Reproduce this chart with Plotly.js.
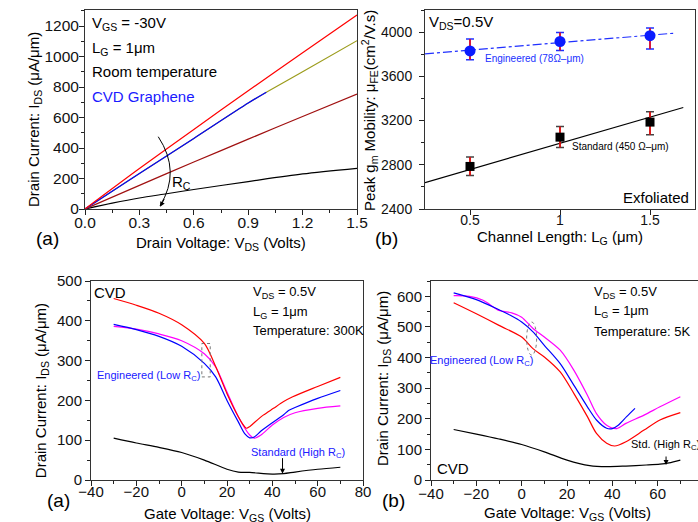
<!DOCTYPE html>
<html><head><meta charset="utf-8">
<script src="https://cdn.plot.ly/plotly-3.0.1.min.js"></script>
<style>html,body{margin:0;padding:0;overflow:hidden;background:#fff;width:698px;height:522px}#chart{width:710px;height:522px}</style>
</head><body><div id="chart"></div>
<script>
// ---------- (a) top: Id-Vds ----------
const vdsA = [0, 0.3, 0.6, 0.9, 1.2, 1.5];
const idRed = [0, 265, 522, 775, 1025, 1272];
const idDarkRed = [0, 155, 308, 458, 607, 754];
const vdsOlive = [0, 0.3, 0.6, 0.9, 1.0, 1.2, 1.5];
const idOlive = [0, 232, 463, 695, 766, 900, 1104];
const vdsBlue = [0, 0.3, 0.6, 0.9, 1.0];
const idBlue = [0, 232, 463, 695, 766];
const vdsBlack = [0, 0.15, 0.3, 0.45, 0.6, 0.9, 1.2, 1.5];
const idBlack = [0, 38, 72, 100, 128, 180, 230, 267];

// ---------- (b) top: mobility vs LG ----------
const lg = [0.5, 1, 1.5];
const engMob = [3830, 3915, 3968];
const engErrPlus = [108, 82, 70];
const engErrMinus = [81, 81, 120];
const stdMob = [2785, 3050, 3186];
const stdErrPlus = [85, 96, 94];
const stdErrMinus = [83, 94, 114];
const engFitX = [0.25, 1.64];
const engFitY = [3804, 3991];
const stdFitX = [0.25, 1.685];
const stdFitY = [2639, 3318];

// ---------- (a) bottom: 300K transfer ----------
const vgsRed300 = [-30, -20, -10, 0, 10, 15, 20, 25, 27, 28.5, 30, 32, 36, 40.5, 45, 49, 60, 70];
const idRed300 = [456, 439, 419, 390, 343, 285, 217, 159, 140, 130, 134, 144, 163, 180, 197, 209, 235, 258];
const vgsBlue300 = [-30, -20, -10, 0, 10, 15, 20, 25, 28, 30, 32, 35, 40, 45, 47, 48, 50, 60, 70];
const idBlue300 = [391, 378, 361, 336, 293, 259, 200, 146, 115, 106, 108, 123, 144, 164, 174, 177, 182, 205, 225];
const vgsMag300 = [-30, -20, -10, 0, 10, 15, 20, 25, 30, 32, 35, 40, 45, 50, 60, 70];
const idMag300 = [386, 379, 367, 350, 317, 284, 221, 159, 113, 105, 113, 138, 157, 169, 180, 186];
const vgsBlack300 = [-30, -20, -10, 0, 10, 20, 25, 30, 40, 45, 50, 60, 70];
const idBlack300 = [105, 93, 82, 69, 50, 27, 20, 19, 15, 16, 20, 27, 32];

// ---------- (b) bottom: 5K transfer ----------
const vgsBlue5 = [-30, -20, -10, -5, 0, 5, 10, 17, 23, 29, 33, 37.5, 40, 42.6, 46.3, 50];
const idBlue5 = [611, 589, 556, 538, 516, 484, 440, 380, 310, 239, 196, 169, 168, 179, 207, 234];
const vgsMag5 = [-30, -23, -17, -10, -4.4, 0, 5, 10, 17, 23, 29, 33, 37.5, 42, 46, 54, 61, 70];
const idMag5 = [602, 600, 587, 554, 546, 532, 495, 467, 424, 359, 277, 217, 179, 168, 185, 212, 239, 272];
const vgsRed5 = [-30, -20, -10, 0, 5, 10, 17, 23, 29, 33, 37.5, 41, 46, 54, 61, 70];
const idRed5 = [579, 543, 505, 467, 429, 402, 353, 283, 207, 152, 120, 111, 125, 163, 196, 220];
const vgsBlack5 = [-30, -20, -10, 0, 10, 20, 30, 37.5, 46, 55, 61, 65, 70];
const idBlack5 = [165, 150, 134, 116, 92, 65, 47, 43.5, 45.6, 49, 52, 56, 65];

// ---------- layout helpers ----------
const W = 710, H = 522;
const fx = p => p / W, fy = p => 1 - p / H;
const FONT = 'Liberation Sans, Arial, sans-serif';
const RED = '#ff0000', BLUE = '#0000ff', MAG = '#ff00ff', OLIVE = '#9c9c1c', DRED = '#a01010', BLK = '#000000';

function axis(domain, range, tick0, dtick, minor, anchor, fs, extra) {
  const a = {
    domain, range, tick0, dtick, anchor,
    ticks: 'outside', ticklen: 5, tickwidth: 1, tickcolor: '#222',
    showline: true, linecolor: '#333', linewidth: 1, mirror: true,
    showgrid: false, zeroline: false, automargin: false, fixedrange: true,
    tickfont: {family: FONT, size: fs, color: '#111'}
  };
  if (minor) a.minor = {dtick: minor, tick0: tick0, ticks: 'outside', ticklen: 3, tickcolor: '#222', showgrid: false};
  return Object.assign(a, extra || {});
}

const line = (x, y, color, xa, ya, extra) => Object.assign({
  x, y, xaxis: xa, yaxis: ya, type: 'scatter', mode: 'lines',
  line: {color, width: 1.2, shape: 'spline', smoothing: 0.8}, hoverinfo: 'skip'
}, extra || {});

const traces = [
  // top (a)
  line(vdsBlack, idBlack, BLK, 'x', 'y'),
  line(vdsA, idDarkRed, DRED, 'x', 'y'),
  line(vdsOlive, idOlive, OLIVE, 'x', 'y'),
  line(vdsBlue, idBlue, BLUE, 'x', 'y'),
  line(vdsA, idRed, RED, 'x', 'y'),
  // top (b)
  {x: engFitX, y: engFitY, xaxis: 'x2', yaxis: 'y2', mode: 'lines', line: {color: '#2030ff', width: 1.2, dash: 'dashdot'}},
  {x: stdFitX, y: stdFitY, xaxis: 'x2', yaxis: 'y2', mode: 'lines', line: {color: BLK, width: 1.2}},
  {x: lg, y: engMob, xaxis: 'x2', yaxis: 'y2', mode: 'markers', marker: {size: 2, opacity: 0},
   error_y: {type: 'data', array: engErrPlus, arrayminus: engErrMinus, color: '#2030ff', thickness: 1.5, width: 4}},
  {x: lg, y: engMob, xaxis: 'x2', yaxis: 'y2', mode: 'markers', marker: {size: 11, color: '#0a1cff', symbol: 'circle'},
   error_y: {type: 'data', array: engErrPlus, arrayminus: engErrMinus, color: RED, thickness: 1.5, width: 0}},
  {x: lg, y: stdMob, xaxis: 'x2', yaxis: 'y2', mode: 'markers', marker: {size: 2, opacity: 0},
   error_y: {type: 'data', array: stdErrPlus, arrayminus: stdErrMinus, color: '#444', thickness: 1.5, width: 4}},
  {x: lg, y: stdMob, xaxis: 'x2', yaxis: 'y2', mode: 'markers', marker: {size: 9, color: BLK, symbol: 'square'},
   error_y: {type: 'data', array: stdErrPlus, arrayminus: stdErrMinus, color: RED, thickness: 1.5, width: 0}},
  // bottom (a)
  line(vgsBlack300, idBlack300, BLK, 'x3', 'y3'),
  line(vgsMag300, idMag300, MAG, 'x3', 'y3'),
  line(vgsBlue300, idBlue300, BLUE, 'x3', 'y3'),
  line(vgsRed300, idRed300, RED, 'x3', 'y3'),
  // bottom (b)
  line(vgsBlack5, idBlack5, BLK, 'x4', 'y4'),
  line(vgsRed5, idRed5, RED, 'x4', 'y4'),
  line(vgsMag5, idMag5, MAG, 'x4', 'y4'),
  line(vgsBlue5, idBlue5, BLUE, 'x4', 'y4')
];

const txt = (text, x, y, xref, yref, size, opts) => Object.assign({
  text, x, y, xref, yref, showarrow: false, xanchor: 'left', yanchor: 'middle',
  font: {family: FONT, size, color: '#000'}
}, opts || {});

const annotations = [
  // top (a)
  txt('V<sub>GS</sub> = -30V', 0.028, 1218, 'x', 'y', 15),
  txt('L<sub>G</sub> = 1\u03bcm', 0.028, 1054, 'x', 'y', 15),
  txt('Room temperature', 0.028, 905, 'x', 'y', 15),
  txt('CVD Graphene', 0.028, 736, 'x', 'y', 15, {font: {family: FONT, size: 15, color: '#1a1aff'}}),
  txt('R<sub>C</sub>', 0.469, 177, 'x', 'y', 15),
  {x: 0.414, y: 15, xref: 'x', yref: 'y', text: '', showarrow: true, arrowhead: 2, arrowsize: 1, arrowwidth: 1, arrowcolor: '#000', ax: 5, ay: -9},
  // top (b)
  txt('V<sub>DS</sub>=0.5V', 0.261, 4084, 'x2', 'y2', 15),
  txt('Exfoliated', 1.726, 2500, 'x2', 'y2', 15, {xanchor: 'right'}),
  txt('Engineered (78\u03a9\u2013\u03bcm)', 0.572, 3761, 'x2', 'y2', 10, {font: {family: FONT, size: 10, color: '#2030ff'}}),
  txt('Standard (450 \u03a9\u2013\u03bcm)', 1.056, 2965, 'x2', 'y2', 10),
  // bottom (a)
  txt('CVD', -39.6, 472, 'x3', 'y3', 15),
  txt('V<sub>DS</sub> = 0.5V', 30.5, 472, 'x3', 'y3', 13),
  txt('L<sub>G</sub> = 1\u03bcm', 30.5, 422, 'x3', 'y3', 13),
  txt('Temperature: 300K', 30.5, 374.5, 'x3', 'y3', 13),
  txt('Engineered (Low R<sub>C</sub>)', 8.9, 261.6, 'x3', 'y3', 11, {xanchor: 'right', font: {family: FONT, size: 11, color: '#2020ff'}}),
  txt('Standard (High R<sub>C</sub>)', 51.2, 68.5, 'x3', 'y3', 11, {xanchor: 'center', font: {family: FONT, size: 11, color: '#2020ff'}}),
  {x: 44.5, y: 16, xref: 'x3', yref: 'y3', text: '', showarrow: true, arrowhead: 2, arrowsize: 1, arrowwidth: 1, arrowcolor: '#000', ax: 0, ay: -17},
  // bottom (b)
  txt('CVD', -38.2, 38, 'x4', 'y4', 15),
  txt('V<sub>DS</sub> = 0.5V', 31.2, 614, 'x4', 'y4', 13),
  txt('L<sub>G</sub> = 1\u03bcm', 31.2, 549, 'x4', 'y4', 13),
  txt('Temperature: 5K', 31.2, 483.5, 'x4', 'y4', 13),
  txt('Engineered (Low R<sub>C</sub>)', 5.9, 388, 'x4', 'y4', 11, {xanchor: 'right', font: {family: FONT, size: 11, color: '#2020ff'}}),
  txt('Std. (High R<sub>C</sub>)', 47.5, 114, 'x4', 'y4', 11),
  {x: 63.7, y: 49, xref: 'x4', yref: 'y4', text: '', showarrow: true, arrowhead: 2, arrowsize: 1, arrowwidth: 1, arrowcolor: '#000', ax: 0, ay: -10},
  // axis titles
  txt('Drain Voltage: V<sub>DS</sub> (Volts)', fx(221), fy(244), 'paper', 'paper', 15, {xanchor: 'center'}),
  txt('Channel Length: L<sub>G</sub> (\u03bcm)', fx(560), fy(237), 'paper', 'paper', 15, {xanchor: 'center'}),
  txt('Gate Voltage: V<sub>GS</sub> (Volts)', fx(227), fy(514), 'paper', 'paper', 15, {xanchor: 'center'}),
  txt('Gate Voltage: V<sub>GS</sub> (Volts)', fx(567), fy(513), 'paper', 'paper', 15, {xanchor: 'center'}),
  txt('Drain Current: I<sub>DS</sub> (\u03bcA/\u03bcm)', fx(35), fy(120), 'paper', 'paper', 15, {xanchor: 'center', textangle: -90}),
  txt('Peak g<sub>m</sub> Mobility: \u03bc<sub>FE</sub>(cm<sup>2</sup>/V.s)', fx(369), fy(111), 'paper', 'paper', 15, {xanchor: 'center', textangle: -90}),
  txt('Drain Current: I<sub>DS</sub> (\u03bcA/\u03bcm)', fx(41.5), fy(390.7), 'paper', 'paper', 15, {xanchor: 'center', textangle: -90}),
  txt('Drain Current: I<sub>DS</sub> (\u03bcA/\u03bcm)', fx(383), fy(378), 'paper', 'paper', 15, {xanchor: 'center', textangle: -90}),
  // panel labels
  txt('(a)', fx(47.5), fy(238), 'paper', 'paper', 19, {xanchor: 'center'}),
  txt('(b)', fx(386.5), fy(238), 'paper', 'paper', 19, {xanchor: 'center'}),
  txt('(a)', fx(58.5), fy(500), 'paper', 'paper', 19, {xanchor: 'center'}),
  txt('(b)', fx(393), fy(500), 'paper', 'paper', 19, {xanchor: 'center'})
];

const shapes = [
  {type: 'path', xref: 'x', yref: 'y', path: 'M 0.404,474 Q 0.531,245 0.414,22', line: {color: '#000', width: 1}},
  {type: 'rect', xref: 'x3', yref: 'y3', x0: 8.9, x1: 12.6, y0: 259, y1: 343, line: {color: '#777', width: 1, dash: 'dot'}},
  {type: 'circle', xref: 'x4', yref: 'y4', x0: 2.2, x1: 6.6, y0: 408, y1: 516, line: {color: '#777', width: 1, dash: 'dot'}}
];

const layout = {
  width: W, height: H, margin: {l: 0, r: 0, t: 0, b: 0},
  paper_bgcolor: '#fff', plot_bgcolor: '#fff', showlegend: false,
  font: {family: FONT, color: '#000'},
  xaxis: axis([fx(85), fx(357)], [0, 1.5], 0, 0.3, 0.15, 'y', 15.5, {tickformat: '.1f', ticklabelstandoff: -6}),
  yaxis: axis([fy(209), fy(10)], [0, 1305], 0, 200, 100, 'x', 15.5, {ticklabelstandoff: -3}),
  xaxis2: axis([fx(425), fx(695)], [0.25, 1.75], 0.5, 0.5, null, 'y2', 14, {ticklabelstandoff: -7}),
  yaxis2: axis([fy(209), fy(10)], [2400, 4200], 2400, 400, 200, 'x2', 14, {ticklabelstandoff: 4}),
  xaxis3: axis([fx(91), fx(363)], [-40, 80], -40, 20, 10, 'y3', 15, {ticklabelstandoff: -7}),
  yaxis3: axis([fy(480), fy(281)], [0, 500], 0, 100, 50, 'x3', 15),
  xaxis4: axis([fx(431), fx(703)], [-40, 80], -40, 20, 10, 'y4', 15, {ticklabelstandoff: -5}),
  yaxis4: axis([fy(480), fy(281)], [0, 650], 0, 100, 50, 'x4', 15),
  annotations, shapes
};

Plotly.newPlot('chart', traces, layout, {displayModeBar: false, staticPlot: true});
</script></body></html>
